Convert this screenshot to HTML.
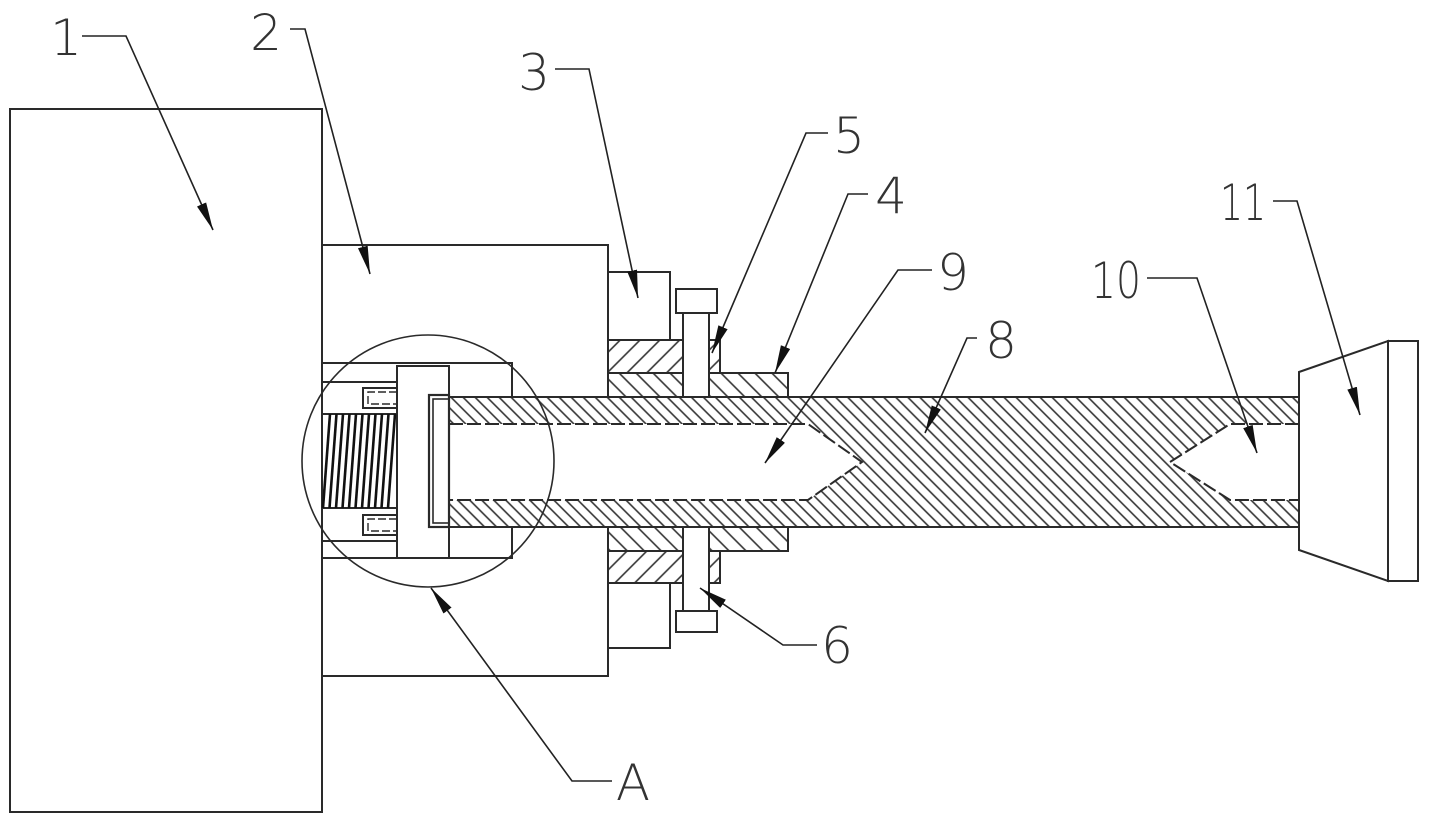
<!DOCTYPE html>
<html><head><meta charset="utf-8"><style>
html,body{margin:0;padding:0;background:#fff;}
svg{display:block;}
text{font-family:"DejaVu Sans","Liberation Sans",sans-serif;font-weight:200;fill:#333;font-size:50px;}
</style></head><body>
<svg width="1429" height="825" viewBox="0 0 1429 825" xmlns="http://www.w3.org/2000/svg">
<defs>
<pattern id="hs" width="8.5" height="8.5" patternUnits="userSpaceOnUse" patternTransform="rotate(-45)"><line x1="4" y1="-1" x2="4" y2="10" stroke="#333" stroke-width="1.6"/></pattern>
<pattern id="hc" width="12" height="12" patternUnits="userSpaceOnUse" patternTransform="rotate(-45)"><line x1="6" y1="-1" x2="6" y2="13" stroke="#333" stroke-width="1.6"/></pattern>
<pattern id="hf" width="14" height="14" patternUnits="userSpaceOnUse" patternTransform="rotate(45)"><line x1="7" y1="-1" x2="7" y2="15" stroke="#333" stroke-width="1.6"/></pattern>
<marker id="ar" markerUnits="userSpaceOnUse" markerWidth="30" markerHeight="12" refX="28" refY="5" orient="auto"><path d="M0,0 L28,5 L0,10 Z" fill="#111"/></marker>
</defs>
<rect width="1429" height="825" fill="#fff"/>

<!-- hatch fills -->
<path d="M449,397 H1299 V527 H449 Z M449,424 H808 L862,462 L808,500 H449 Z M1299,424 H1230 L1170,462 L1230,500 H1299 Z" fill="url(#hs)" fill-rule="evenodd"/>
<rect x="608" y="373" width="180" height="24" fill="url(#hc)"/>
<rect x="608" y="527" width="180" height="24" fill="url(#hc)"/>
<rect x="608" y="340" width="112" height="33" fill="url(#hf)"/>
<rect x="608" y="551" width="112" height="32" fill="url(#hf)"/>
<rect x="684" y="314" width="24" height="82" fill="#fff"/>
<rect x="684" y="528" width="24" height="82" fill="#fff"/>

<g fill="none" stroke="#2a2a2a" stroke-width="2">
<!-- part 1 -->
<rect x="10" y="109" width="312" height="703"/>
<!-- part 2 -->
<path d="M322,245 H608 V397 M608,527 V676 H322"/>
<path d="M322,363 H512 V397 M512,527 V558 H322 M322,382 H397 M322,541 H397"/>
<!-- plate -->
<rect x="397" y="366" width="52" height="192"/>
<rect x="429" y="395" width="20" height="132" stroke-width="2.2"/>
<rect x="433" y="399" width="16" height="124" stroke-width="1.6"/>
<!-- brackets -->
<path d="M397,388 H363 V408 H397"/>
<path d="M397,392 H368 V404 H397" stroke-width="1.4" stroke-dasharray="8 3"/>
<path d="M397,515 H363 V535 H397"/>
<path d="M397,519 H368 V531 H397" stroke-width="1.4" stroke-dasharray="8 3"/>
<!-- spring -->
<path d="M322,414 H397 M322,508 H397"/>
</g>
<g stroke="#111" stroke-width="2.6">
<line x1="323" y1="508" x2="330" y2="414"/>
<line x1="329.5" y1="508" x2="336.5" y2="414"/>
<line x1="336" y1="508" x2="343" y2="414"/>
<line x1="342.5" y1="508" x2="349.5" y2="414"/>
<line x1="349" y1="508" x2="356" y2="414"/>
<line x1="355.5" y1="508" x2="362.5" y2="414"/>
<line x1="362" y1="508" x2="369" y2="414"/>
<line x1="368.5" y1="508" x2="375.5" y2="414"/>
<line x1="375" y1="508" x2="382" y2="414"/>
<line x1="381.5" y1="508" x2="388.5" y2="414"/>
<line x1="388" y1="508" x2="395" y2="414"/>
</g>

<g fill="none" stroke="#2a2a2a" stroke-width="2">
<!-- tube / shaft -->
<path d="M449,397 H1299 M449,527 H1299"/>
<path d="M449,424 H808 L862,462 L808,500 H449" stroke-dasharray="14 4"/>
<path d="M1299,424 H1230 L1170,462 L1230,500 H1299" stroke-dasharray="14 4"/>
<!-- collar & flange -->
<path d="M608,373 H683 M709,373 H788 V397 M608,551 H683 M709,551 H788 V527"/>
<path d="M608,340 H683 M709,340 H720 V373 M608,583 H683 M709,583 H720 V551"/>
<!-- part 3 -->
<path d="M608,272 H670 V340 M670,583 V648 H608"/>
<!-- bolts -->
<path d="M683,313 V397 M709,313 V397 M683,527 V611 M709,527 V611"/>
<rect x="676" y="289" width="41" height="24"/>
<rect x="676" y="611" width="41" height="21"/>
<!-- part 11 -->
<path d="M1299,372 L1388,341 V581 L1299,550 Z"/>
<rect x="1388" y="341" width="30" height="240"/>
<!-- circle A -->
<circle cx="428" cy="461" r="126" stroke-width="1.6"/>
</g>

<!-- leaders -->
<g fill="none" stroke="#222" stroke-width="1.6" marker-end="url(#ar)">
<path d="M82,36 H126 L213,230"/>
<path d="M290,29 H305 L370,274"/>
<path d="M555,69 H589 L638,298"/>
<path d="M828,133 H806 L712,353"/>
<path d="M868,194 H848 L775,373"/>
<path d="M932,270 H898 L765,463"/>
<path d="M977,338 H967 L925,433"/>
<path d="M1147,278 H1197 L1257,453"/>
<path d="M1273,201 H1297 L1360,415"/>
<path d="M817,645 H783 L700,588"/>
<path d="M612,781 H572 L431,588"/>
</g>

<!-- labels -->
<text x="66" y="55" text-anchor="middle">1</text>
<text x="266" y="50" text-anchor="middle">2</text>
<text x="534" y="90" text-anchor="middle">3</text>
<text x="849" y="153" text-anchor="middle">5</text>
<text x="891" y="213" text-anchor="middle">4</text>
<text x="953" y="290" text-anchor="middle">9</text>
<text x="1001" y="358" text-anchor="middle">8</text>
<text x="1091" y="298" textLength="50" lengthAdjust="spacingAndGlyphs">10</text>
<text x="1220" y="220" textLength="46" lengthAdjust="spacingAndGlyphs">11</text>
<text x="837" y="663" text-anchor="middle">6</text>
<text x="633" y="800" text-anchor="middle">A</text>
</svg>
</body></html>
